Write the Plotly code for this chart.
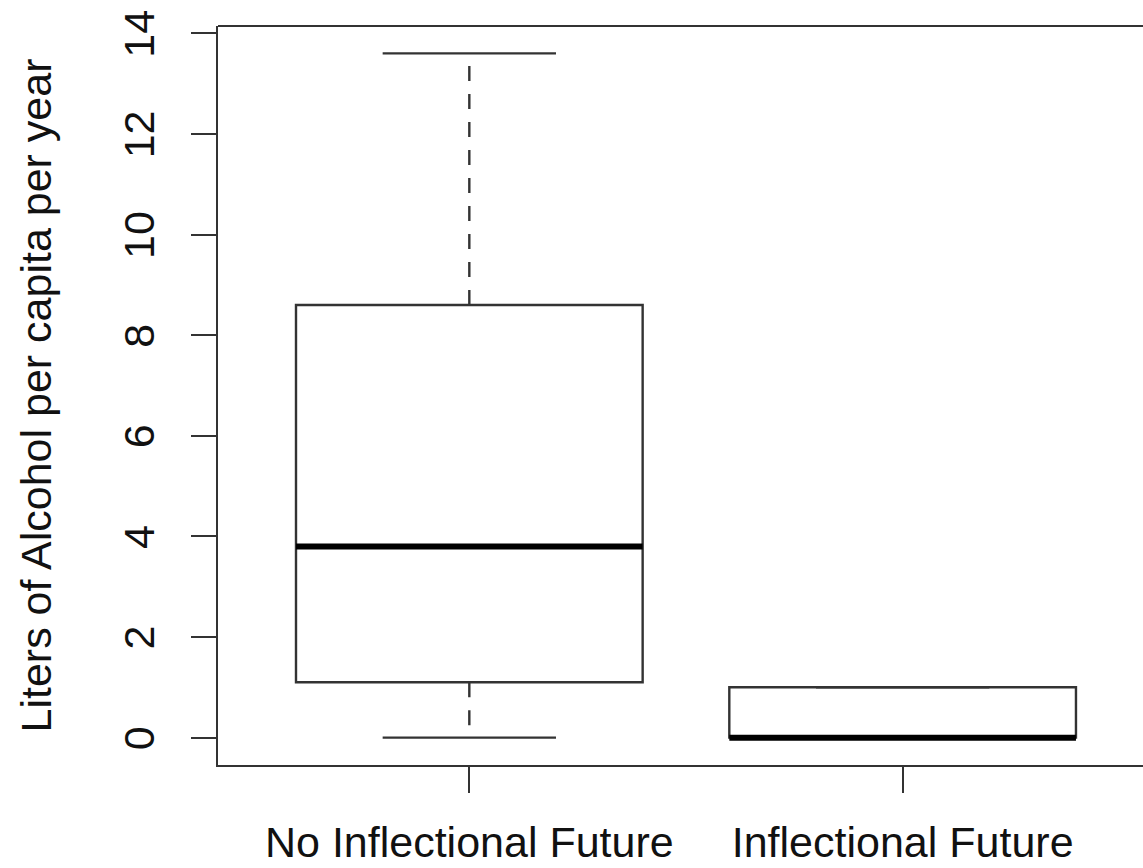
import plotly.graph_objects as go

# ---- data ----
categories = ["No Inflectional Future", "Inflectional Future"]
positions = [1, 2]
lower_whisker = [0.0, 0.0]
q1 = [1.1, 0.0]
median = [3.8, 0.0]
q3 = [8.6, 1.0]
upper_whisker = [13.6, 1.0]
y_ticks = [0, 2, 4, 6, 8, 10, 12, 14]

BOX_W = 0.8
CAP_W = 0.4
LINE_C = "#333333"
TEXT_C = "#111111"
FONT = "Liberation Sans, Arial, Helvetica, sans-serif"

fig = go.Figure()

for i, xp in enumerate(positions):
    # box (whiskers drawn separately, dashed like R)
    fig.add_trace(go.Box(
        x=[xp], q1=[q1[i]], median=[median[i]], q3=[q3[i]],
        lowerfence=[q1[i]], upperfence=[q3[i]],
        width=BOX_W, fillcolor="white",
        line=dict(color=LINE_C, width=2.4),
        whiskerwidth=0, showlegend=False, hoverinfo="skip",
    ))
    # dashed whiskers
    fig.add_trace(go.Scatter(
        x=[xp, xp], y=[q3[i], upper_whisker[i]], mode="lines",
        line=dict(color=LINE_C, width=2.4, dash="15px,13px"),
        showlegend=False, hoverinfo="skip"))
    fig.add_trace(go.Scatter(
        x=[xp, xp], y=[q1[i], lower_whisker[i]], mode="lines",
        line=dict(color=LINE_C, width=2.4, dash="15px,13px"),
        showlegend=False, hoverinfo="skip"))
    # staples
    for yv in (upper_whisker[i], lower_whisker[i]):
        fig.add_trace(go.Scatter(
            x=[xp - CAP_W / 2, xp + CAP_W / 2], y=[yv, yv], mode="lines",
            line=dict(color=LINE_C, width=2.4),
            showlegend=False, hoverinfo="skip"))
    # thick median
    fig.add_trace(go.Scatter(
        x=[xp - BOX_W / 2, xp + BOX_W / 2], y=[median[i], median[i]],
        mode="lines", line=dict(color="black", width=6),
        showlegend=False, hoverinfo="skip"))

fig.update_layout(
    width=1143, height=868,
    margin=dict(l=218, r=0, t=26, b=103, pad=0),
    paper_bgcolor="white", plot_bgcolor="white",
    font=dict(family=FONT, size=43, color=TEXT_C),
    xaxis=dict(
        range=[0.42, 2.5547], tickmode="array", tickvals=positions,
        ticktext=categories, ticks="outside", ticklen=26, tickwidth=2,
        tickcolor=LINE_C, showline=True, linecolor=LINE_C, linewidth=2,
        showgrid=False, zeroline=False, automargin=False,
        ticklabelstandoff=12, ticklabeloverflow="allow",
        tickfont=dict(size=43, family=FONT, color=TEXT_C),
    ),
    yaxis=dict(
        range=[-0.544, 14.144], tickmode="array", tickvals=y_ticks,
        ticks="outside", ticklen=25, tickwidth=2, tickcolor=LINE_C,
        tickangle=-90, showline=True, linecolor=LINE_C, linewidth=2,
        showgrid=False, zeroline=False, automargin=False,
        ticklabelstandoff=20, ticklabelshift=7, ticklabeloverflow="allow",
        tickfont=dict(size=43, family=FONT, color=TEXT_C),
        title=dict(text="Liters of Alcohol per capita per year",
                   font=dict(size=43, family=FONT, color=TEXT_C),
                   standoff=50),
    ),
    shapes=[dict(type="line", xref="paper", yref="paper",
                 x0=0, x1=1, y0=1, y1=1,
                 line=dict(color=LINE_C, width=2))],
)

fig.write_html(
    "out.html",
    config={"displayModeBar": False},
    post_script="document.body.style.margin='0';document.body.style.overflow='hidden';",
)
